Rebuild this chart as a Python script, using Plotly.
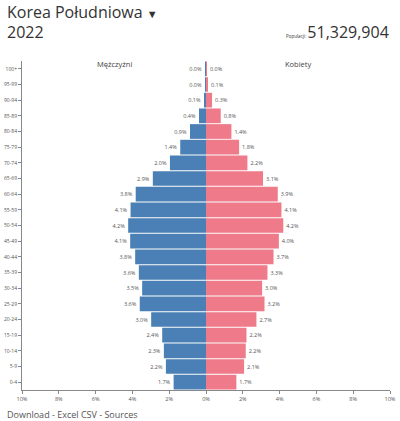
import plotly.graph_objects as go

age_groups = ["0-4", "5-9", "10-14", "15-19", "20-24", "25-29", "30-34", "35-39",
              "40-44", "45-49", "50-54", "55-59", "60-64", "65-69", "70-74",
              "75-79", "80-84", "85-89", "90-94", "95-99", "100+"]
male_pct = [1.76, 2.18, 2.29, 2.38, 2.98, 3.6, 3.47, 3.65, 3.85, 4.12, 4.23, 4.1,
            3.82, 2.89, 1.96, 1.4, 0.87, 0.38, 0.11, 0.02, 0.01]
male_labels = ["1.7%", "2.2%", "2.3%", "2.4%", "3.0%", "3.6%", "3.5%", "3.6%",
               "3.8%", "4.1%", "4.2%", "4.1%", "3.8%", "2.9%", "2.0%", "1.4%",
               "0.9%", "0.4%", "0.1%", "0.0%", "0.0%"]
female_pct = [1.65, 2.07, 2.16, 2.2, 2.74, 3.18, 3.05, 3.34, 3.67, 3.96, 4.2, 4.1,
              3.9, 3.1, 2.25, 1.8, 1.38, 0.8, 0.33, 0.1, 0.02]
female_labels = ["1.7%", "2.1%", "2.2%", "2.2%", "2.7%", "3.2%", "3.0%", "3.3%",
                 "3.7%", "4.0%", "4.2%", "4.1%", "3.9%", "3.1%", "2.2%", "1.8%",
                 "1.4%", "0.8%", "0.3%", "0.1%", "0.0%"]
x_tick_vals = [-10, -8, -6, -4, -2, 0, 2, 4, 6, 8, 10]
x_tick_text = ["10%", "8%", "6%", "4%", "2%", "0%", "2%", "4%", "6%", "8%", "10%"]

FONT = "Open Sans, Noto Sans, sans-serif"
BLUE = "#4A80B5"
PINK = "#EE7A8A"

fig = go.Figure()
fig.add_trace(go.Bar(
    y=age_groups, x=[-v for v in male_pct], orientation="h",
    marker=dict(color=BLUE, line=dict(width=0)),
    text=male_labels, textposition="outside", cliponaxis=False,
    textfont=dict(size=5.5, color="#555", family=FONT),
    name="Mężczyźni", showlegend=False,
))
fig.add_trace(go.Bar(
    y=age_groups, x=female_pct, orientation="h",
    marker=dict(color=PINK, line=dict(width=0)),
    text=female_labels, textposition="outside", cliponaxis=False,
    textfont=dict(size=5.5, color="#555", family=FONT),
    name="Kobiety", showlegend=False,
))

T, B, L, R = 61, 390, 22, 390
H = B - T


def py(p):
    return (B - p) / H


def px(p):
    return (p - L) / (R - L)


annotations = [
    dict(text="Korea Południowa <span style='font-size:11px'>▼</span>", x=px(5), y=py(12),
         xref="paper", yref="paper", xanchor="left", yanchor="middle",
         showarrow=False, font=dict(size=16, color="#333", family=FONT)),
    dict(text="2022", x=px(5), y=py(32), xref="paper", yref="paper",
         xanchor="left", yanchor="middle", showarrow=False,
         font=dict(size=16, color="#333", family=FONT)),
    dict(text="<span style='font-size:4.5px'>Populacji: </span>51,329,904",
         x=px(391), y=py(32), xref="paper", yref="paper",
         xanchor="right", yanchor="middle", showarrow=False,
         font=dict(size=16, color="#333", family=FONT)),
    dict(text="Mężczyźni", x=-5, y=py(64), xref="x", yref="paper",
         xanchor="center", yanchor="middle", showarrow=False,
         font=dict(size=7.5, color="#444", family=FONT)),
    dict(text="Kobiety", x=5, y=py(64), xref="x", yref="paper",
         xanchor="center", yanchor="middle", showarrow=False,
         font=dict(size=7.5, color="#444", family=FONT)),
    dict(text="Download - Excel CSV - Sources", x=px(5), y=py(414),
         xref="paper", yref="paper", xanchor="left", yanchor="middle",
         showarrow=False, font=dict(size=9, color="#555", family=FONT)),
]

fig.update_layout(
    width=400, height=421,
    margin=dict(l=L, r=400 - R, t=T, b=421 - B, autoexpand=False),
    barmode="overlay", bargap=0.06,
    plot_bgcolor="white", paper_bgcolor="white",
    font=dict(family=FONT, color="#444"),
    annotations=annotations,
    xaxis=dict(range=[-10, 10], tickvals=x_tick_vals, ticktext=x_tick_text,
               showgrid=False, zeroline=False, showline=True, linecolor="#888",
               linewidth=1, ticks="outside", ticklen=3, tickcolor="#888",
               tickfont=dict(size=5.5, color="#555"), fixedrange=True,
               automargin=False),
    yaxis=dict(categoryorder="array", categoryarray=age_groups, range=[-0.5, 20.5],
               showgrid=False, zeroline=False, showline=True, linecolor="#888",
               linewidth=1, ticks="outside", ticklen=3, tickcolor="#888",
               tickfont=dict(size=5, color="#555"), fixedrange=True,
               automargin=False),
)

fig.write_html("out.html", config={"displayModeBar": False},
               post_script="document.body.style.margin='0';document.body.style.overflow='hidden';")
